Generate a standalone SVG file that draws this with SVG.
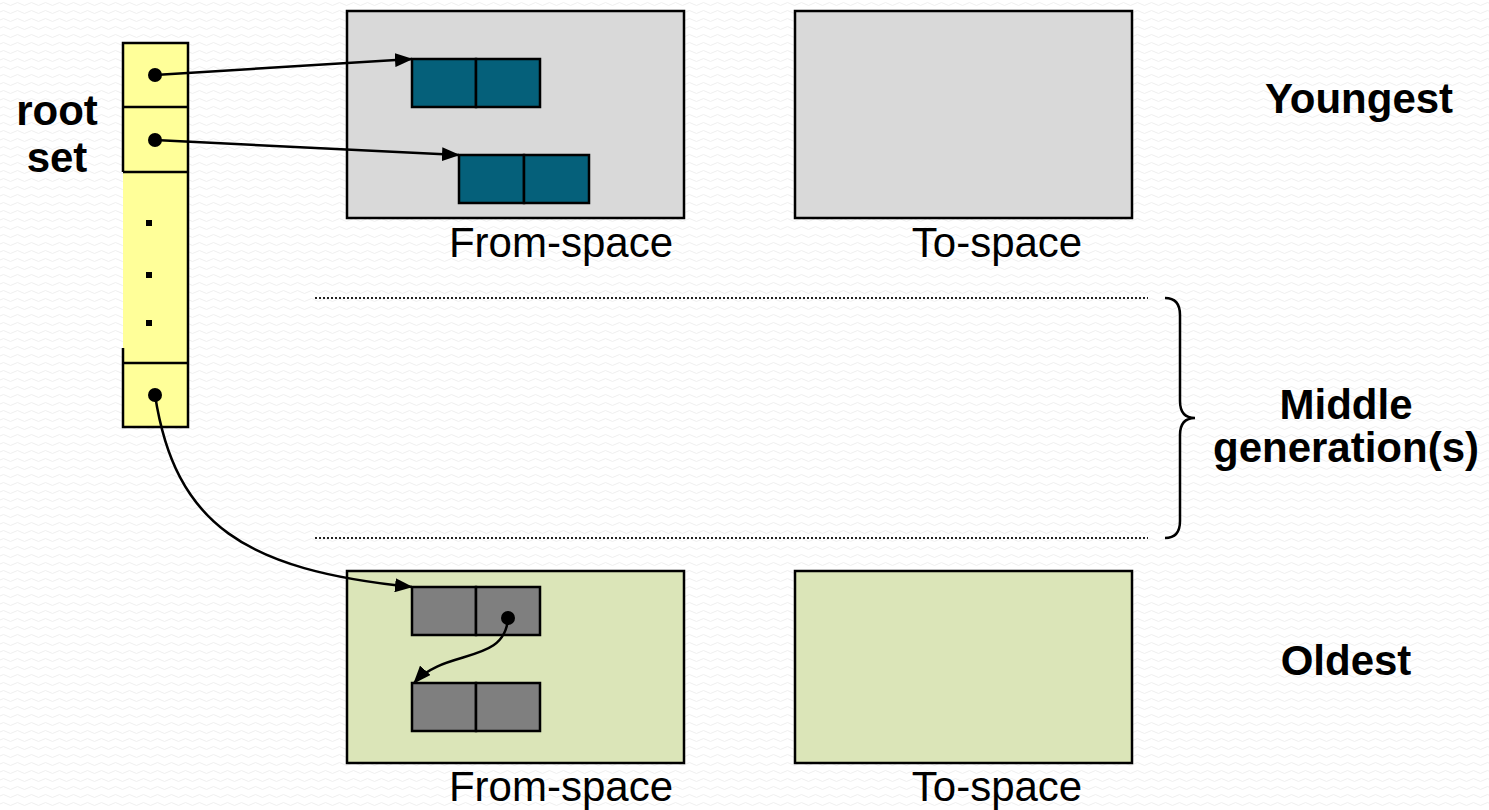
<svg xmlns="http://www.w3.org/2000/svg" width="1489" height="810" viewBox="0 0 1489 810">
  <defs>
    <pattern id="bgWave" width="14" height="8" patternUnits="userSpaceOnUse">
      <path d="M0,4 Q3.5,1 7,4 T14,4" fill="none" stroke="#efefef" stroke-width="1"/>
    </pattern>
    <marker id="arrow" markerUnits="userSpaceOnUse" markerWidth="18" markerHeight="14" refX="17" refY="7" orient="auto">
      <path d="M0,0 L18,7 L0,14 z" fill="#000"/>
    </marker>
    <style>
      .lbl { font-family: "Liberation Sans", Arial, sans-serif; font-size: 42px; fill: #000; }
      .bold { font-weight: bold; }
      .cell { stroke: #000; stroke-width: 2.5; }
      .root { fill: #ffff99; }
      .young { fill: #d9d9d9; stroke: #000; stroke-width: 2.5; }
      .old { fill: #dbe5b8; stroke: #000; stroke-width: 2.5; }
      .teal { fill: #05607a; stroke: #000; stroke-width: 2.5; }
      .grey { fill: #7f7f7f; stroke: #000; stroke-width: 2.5; }
      .frame { fill: none; stroke: #000; stroke-width: 2.5; }
      .link { fill: none; stroke: #000; stroke-width: 2.5; }
      .dot { fill: #000; }
      .sep { stroke: #222; stroke-width: 2; stroke-dasharray: 2 2; }
    </style>
  </defs>

  <rect x="0" y="0" width="1489" height="810" fill="#ffffff"/>
  <rect x="0" y="0" width="1489" height="810" fill="url(#bgWave)"/>

  <!-- root set column -->
  <g id="root-set">
    <rect class="root" x="123" y="43" width="65" height="384"/>
    <path class="frame" d="M123,172 L123,43 L188,43 L188,427 L123,427 L123,348"/>
    <line class="cell" x1="123" y1="107" x2="188" y2="107"/>
    <line class="cell" x1="123" y1="172" x2="188" y2="172"/>
    <line class="cell" x1="123" y1="363" x2="188" y2="363"/>
    <circle class="dot" cx="155" cy="75" r="7"/>
    <circle class="dot" cx="155" cy="140" r="7"/>
    <circle class="dot" cx="155" cy="395" r="7"/>
    <rect class="dot" x="146" y="220" width="6" height="6"/>
    <rect class="dot" x="146" y="272" width="6" height="6"/>
    <rect class="dot" x="146" y="320" width="6" height="6"/>
    <text class="lbl bold" x="57" y="125" text-anchor="middle">root</text>
    <text class="lbl bold" x="57" y="172" text-anchor="middle">set</text>
  </g>

  <!-- youngest generation -->
  <g id="young-from">
    <rect class="young" x="347" y="11" width="337" height="207"/>
    <text class="lbl" x="561" y="257" text-anchor="middle">From-space</text>
  </g>
  <g id="young-obj1">
    <rect class="teal" x="412" y="59" width="64" height="48"/>
    <rect class="teal" x="476" y="59" width="64" height="48"/>
  </g>
  <g id="young-obj2">
    <rect class="teal" x="459" y="155" width="65" height="48"/>
    <rect class="teal" x="524" y="155" width="65" height="48"/>
  </g>
  <g id="young-to">
    <rect class="young" x="795" y="11" width="337" height="207"/>
    <text class="lbl" x="997" y="257" text-anchor="middle">To-space</text>
  </g>
  <g id="label-youngest">
    <text class="lbl bold" x="1359" y="113" text-anchor="middle">Youngest</text>
  </g>

  <!-- middle generations -->
  <g id="middle">
    <line class="sep" x1="315" y1="298" x2="1148" y2="298"/>
    <line class="sep" x1="315" y1="538" x2="1148" y2="538"/>
    <path class="frame" d="M1165,298 Q1180,298 1180,315 L1180,401 Q1180,418 1195,418 Q1180,418 1180,435 L1180,521 Q1180,538 1165,538"/>
    <text class="lbl bold" x="1346" y="419" text-anchor="middle">Middle</text>
    <text class="lbl bold" x="1346" y="462" text-anchor="middle">generation(s)</text>
  </g>

  <!-- oldest generation -->
  <g id="old-from">
    <rect class="old" x="347" y="571" width="337" height="192"/>
    <text class="lbl" x="561" y="801" text-anchor="middle">From-space</text>
  </g>
  <g id="old-obj1">
    <rect class="grey" x="412" y="587" width="64" height="48"/>
    <rect class="grey" x="476" y="587" width="64" height="48"/>
    <circle class="dot" cx="508" cy="618" r="7"/>
  </g>
  <g id="old-obj2">
    <rect class="grey" x="412" y="683" width="64" height="48"/>
    <rect class="grey" x="476" y="683" width="64" height="48"/>
  </g>
  <g id="old-to">
    <rect class="old" x="795" y="571" width="337" height="192"/>
    <text class="lbl" x="997" y="801" text-anchor="middle">To-space</text>
  </g>
  <g id="label-oldest">
    <text class="lbl bold" x="1346" y="675" text-anchor="middle">Oldest</text>
  </g>

  <!-- pointers -->
  <g id="connectors">
    <line class="link" x1="155" y1="75" x2="412" y2="59" marker-end="url(#arrow)"/>
    <line class="link" x1="155" y1="140" x2="459" y2="155" marker-end="url(#arrow)"/>
    <path class="link" d="M155,395 C175,525 245,570 412,587" marker-end="url(#arrow)"/>
    <path class="link" d="M508,618 C505,665 445,648 414,683" marker-end="url(#arrow)"/>
  </g>
</svg>
